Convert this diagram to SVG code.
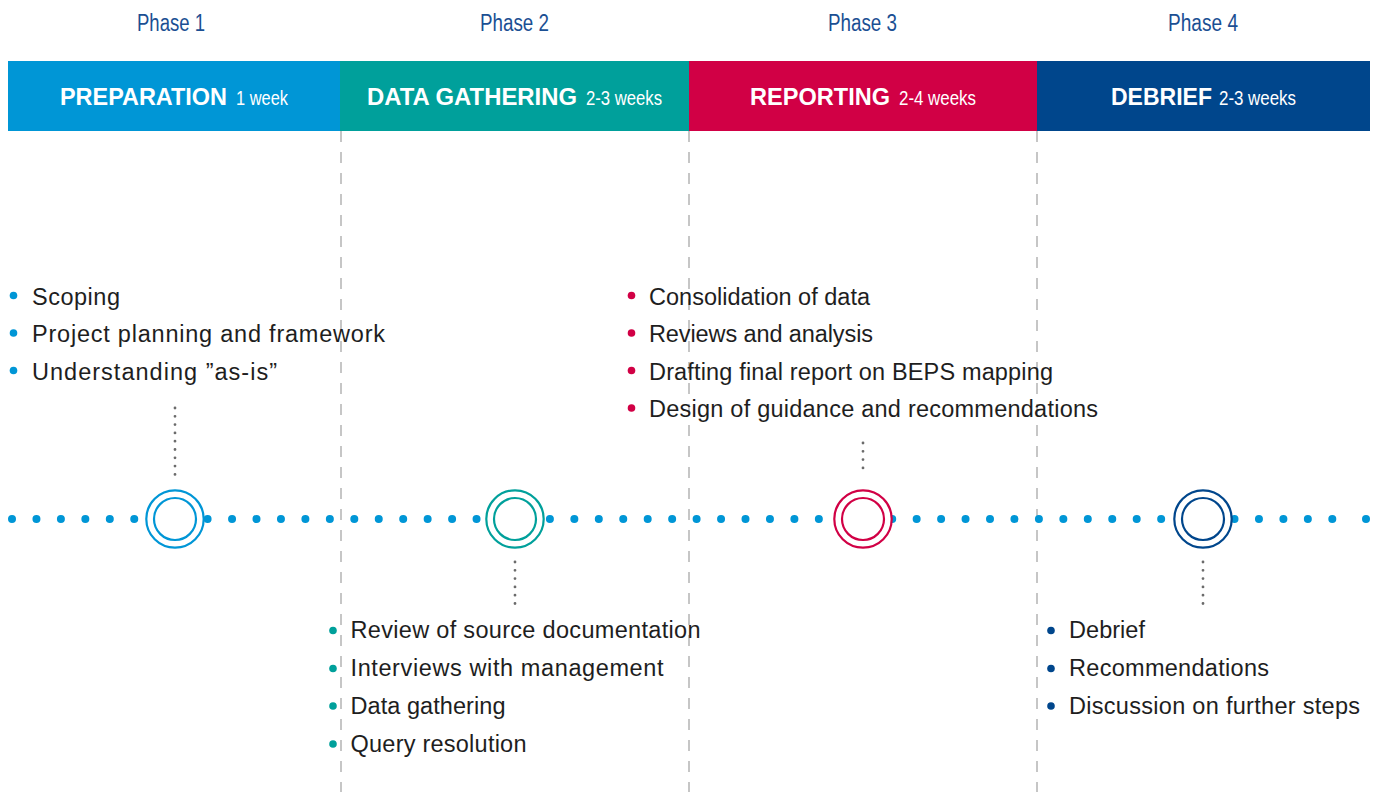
<svg xmlns="http://www.w3.org/2000/svg" width="1381" height="792" viewBox="0 0 1381 792">
  <style>
    .phase { font-family: "Liberation Sans", Arial, sans-serif; font-size: 23px; fill: #1b4f93; }
    .band-title { font-family: "Liberation Sans", Arial, sans-serif; font-size: 23px; font-weight: bold; fill: #ffffff; }
    .band-dur { font-family: "Liberation Sans", Arial, sans-serif; font-size: 20px; fill: #ffffff; }
    .item { font-family: "Liberation Sans", Arial, sans-serif; font-size: 23.5px; fill: #1e1e1e; }
    .divider { stroke: #a8a8a8; stroke-width: 1.3; stroke-dasharray: 11 10; fill: none; }
    .timeline { stroke: #0096d6; stroke-width: 8; stroke-linecap: round; stroke-dasharray: 0 24.45; fill: none; }
    .leader { stroke: #6b6b6b; stroke-width: 2.8; stroke-linecap: round; stroke-dasharray: 0 8.3; fill: none; }
    .ring { fill: #ffffff; stroke-width: 2.2; }
  </style>

  <!-- phase headings -->
  <g id="phase-labels">
    <text class="phase" x="171" y="31" text-anchor="middle" textLength="68" lengthAdjust="spacingAndGlyphs">Phase 1</text>
    <text class="phase" x="514.5" y="31" text-anchor="middle" textLength="69" lengthAdjust="spacingAndGlyphs">Phase 2</text>
    <text class="phase" x="862.5" y="31" text-anchor="middle" textLength="69" lengthAdjust="spacingAndGlyphs">Phase 3</text>
    <text class="phase" x="1203" y="31" text-anchor="middle" textLength="70" lengthAdjust="spacingAndGlyphs">Phase 4</text>
  </g>

  <!-- coloured phase band -->
  <g id="band-preparation">
    <rect x="8" y="61" width="332" height="70" fill="#0096d6"/>
    <text class="band-title" x="60" y="105" textLength="167" lengthAdjust="spacingAndGlyphs">PREPARATION</text>
    <text class="band-dur" x="236" y="105" textLength="52" lengthAdjust="spacingAndGlyphs">1 week</text>
  </g>
  <g id="band-data-gathering">
    <rect x="340" y="61" width="349" height="70" fill="#00a09b"/>
    <text class="band-title" x="367" y="105" textLength="210" lengthAdjust="spacingAndGlyphs">DATA GATHERING</text>
    <text class="band-dur" x="586" y="105" textLength="76" lengthAdjust="spacingAndGlyphs">2-3 weeks</text>
  </g>
  <g id="band-reporting">
    <rect x="689" y="61" width="348" height="70" fill="#d10045"/>
    <text class="band-title" x="750" y="105" textLength="140" lengthAdjust="spacingAndGlyphs">REPORTING</text>
    <text class="band-dur" x="899" y="105" textLength="77" lengthAdjust="spacingAndGlyphs">2-4 weeks</text>
  </g>
  <g id="band-debrief">
    <rect x="1037" y="61" width="333" height="70" fill="#00468c"/>
    <text class="band-title" x="1111" y="105" textLength="101" lengthAdjust="spacingAndGlyphs">DEBRIEF</text>
    <text class="band-dur" x="1219" y="105" textLength="77" lengthAdjust="spacingAndGlyphs">2-3 weeks</text>
  </g>

  <!-- connectors: phase dividers, dotted timeline, leaders -->
  <g id="connectors">
    <line class="divider" x1="341" y1="131" x2="341" y2="792"/>
    <line class="divider" x1="689" y1="131" x2="689" y2="792"/>
    <line class="divider" x1="1037" y1="131" x2="1037" y2="792"/>
    <line class="timeline" x1="12" y1="519" x2="1334" y2="519"/>
    <circle cx="1366" cy="519" r="4" fill="#0096d6"/>
    <line class="leader" x1="175" y1="408" x2="175" y2="475"/>
    <line class="leader" x1="515" y1="562" x2="515" y2="608"/>
    <line class="leader" x1="863" y1="443" x2="863" y2="476"/>
    <line class="leader" x1="1203" y1="562" x2="1203" y2="608"/>
  </g>

  <!-- milestones -->
  <g id="milestone-1">
    <circle class="ring" cx="175" cy="519" r="28.7" stroke="#0096d6"/>
    <circle class="ring" cx="175" cy="519" r="21" stroke="#0096d6"/>
  </g>
  <g id="milestone-2">
    <circle class="ring" cx="515" cy="519" r="28.7" stroke="#00a09b"/>
    <circle class="ring" cx="515" cy="519" r="21" stroke="#00a09b"/>
  </g>
  <g id="milestone-3">
    <circle class="ring" cx="863" cy="519" r="28.7" stroke="#d10045"/>
    <circle class="ring" cx="863" cy="519" r="21" stroke="#d10045"/>
  </g>
  <g id="milestone-4">
    <circle class="ring" cx="1203" cy="519" r="28.7" stroke="#00468c"/>
    <circle class="ring" cx="1203" cy="519" r="21" stroke="#00468c"/>
  </g>

  <!-- task lists -->
  <g id="tasks-1" fill="#0096d6">
    <circle cx="13.5" cy="295.5" r="3.8"/>
    <circle cx="13.5" cy="333" r="3.8"/>
    <circle cx="13.5" cy="370.5" r="3.8"/>
    <text class="item" x="32" y="305" textLength="88">Scoping</text>
    <text class="item" x="32" y="342.3" textLength="353">Project planning and framework</text>
    <text class="item" x="32" y="380" textLength="245">Understanding ”as-is”</text>
  </g>
  <g id="tasks-2" fill="#00a09b">
    <circle cx="333" cy="630.5" r="3.8"/>
    <circle cx="333" cy="668.5" r="3.8"/>
    <circle cx="333" cy="706" r="3.8"/>
    <circle cx="333" cy="744" r="3.8"/>
    <text class="item" x="350.5" y="638.3" textLength="350">Review of source documentation</text>
    <text class="item" x="350.5" y="676.3" textLength="313">Interviews with management</text>
    <text class="item" x="350.5" y="714" textLength="155">Data gathering</text>
    <text class="item" x="350.5" y="751.7" textLength="176">Query resolution</text>
  </g>
  <g id="tasks-3" fill="#d10045">
    <circle cx="631.5" cy="295.5" r="3.8"/>
    <circle cx="631.5" cy="333" r="3.8"/>
    <circle cx="631.5" cy="370.5" r="3.8"/>
    <circle cx="631.5" cy="408" r="3.8"/>
    <text class="item" x="649" y="305" textLength="221">Consolidation of data</text>
    <text class="item" x="649" y="342.3" textLength="224">Reviews and analysis</text>
    <text class="item" x="649" y="380" textLength="404">Drafting final report on BEPS mapping</text>
    <text class="item" x="649" y="417.3" textLength="449">Design of guidance and recommendations</text>
  </g>
  <g id="tasks-4" fill="#00468c">
    <circle cx="1051" cy="630.5" r="3.8"/>
    <circle cx="1051" cy="668.5" r="3.8"/>
    <circle cx="1051" cy="706" r="3.8"/>
    <text class="item" x="1069" y="638.3" textLength="76">Debrief</text>
    <text class="item" x="1069" y="676.3" textLength="200">Recommendations</text>
    <text class="item" x="1069" y="714" textLength="291">Discussion on further steps</text>
  </g>
</svg>
